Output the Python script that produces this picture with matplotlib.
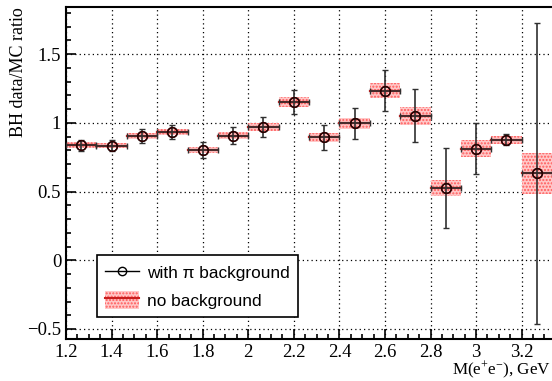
import matplotlib
matplotlib.use("Agg")
import matplotlib.pyplot as plt
import numpy as np
from matplotlib.patches import Rectangle
from matplotlib.lines import Line2D
from matplotlib.ticker import MultipleLocator

# bins of M(e+e-), GeV
bin_lo = [1.2, 1.3333, 1.4667, 1.6, 1.7333, 1.8667, 2.0, 2.1333,
          2.2667, 2.4, 2.5333, 2.6667, 2.8, 2.9333, 3.0667, 3.2]
bin_w = 0.13333

# ratio with pi background subtracted
ratio = [0.837, 0.835, 0.905, 0.932, 0.806, 0.908, 0.971, 1.155,
         0.895, 0.997, 1.235, 1.051, 0.527, 0.813, 0.876, 0.634]
ratio_err = [0.04, 0.04, 0.05, 0.052, 0.058, 0.06, 0.073, 0.087,
             0.092, 0.114, 0.147, 0.193, 0.29, 0.186, 0.04, 1.095]

# no background version (band)
nobkg = ratio
nobkg_err = [0.021, 0.02, 0.024, 0.021, 0.022, 0.024, 0.028, 0.036,
             0.034, 0.041, 0.056, 0.068, 0.06, 0.063, 0.03, 0.15]

plt.rcParams['font.family'] = ['Liberation Serif', 'DejaVu Serif']
plt.rcParams['mathtext.default'] = 'regular'

fig = plt.figure(figsize=(5.52, 3.81), dpi=100)
ax = fig.add_axes([0.1196, 0.1102, 0.8804, 0.8722])

centers = np.array(bin_lo) + bin_w / 2

for lo, v, e in zip(bin_lo, nobkg, nobkg_err):
    ax.add_patch(Rectangle((lo, v - e), bin_w, 2 * e, facecolor='#ffc8c8',
                           edgecolor='#ff5a5a', hatch='.....', lw=0, zorder=2))
    ax.plot([lo, lo + bin_w], [v, v], color='#c81e1e', lw=1.6, zorder=3)

ax.errorbar(centers, ratio, yerr=ratio_err, xerr=bin_w / 2, fmt='o',
            mfc='none', mec='black', ms=7, mew=1.0, ecolor='#303030',
            elinewidth=1.2, capsize=2.2, capthick=1.2, zorder=4)
ax.plot(centers, ratio, 'o', mfc='none', mec='#300000', ms=7, mew=1.0, zorder=5)

ax.set_xlim(1.2, 3.3333)
ax.set_ylim(-0.573, 1.846)
ax.xaxis.set_minor_locator(MultipleLocator(0.05))
ax.yaxis.set_minor_locator(MultipleLocator(0.1))
ax.set_xticks([1.2, 1.4, 1.6, 1.8, 2.0, 2.2, 2.4, 2.6, 2.8, 3.0, 3.2])
ax.set_xticklabels(['1.2', '1.4', '1.6', '1.8', '2', '2.2', '2.4', '2.6', '2.8', '3', '3.2'])
ax.set_yticks([-0.5, 0, 0.5, 1, 1.5])
ax.set_yticklabels(['\u22120.5', '0', '0.5', '1', '1.5'])
ax.grid(True, which='major', color='black', linestyle=(0, (1, 2.5)), lw=0.9)
ax.tick_params(which='both', direction='in', top=False, right=False,
               labelsize=13.5, width=1.2)
ax.tick_params(which='major', length=7)
ax.tick_params(which='minor', length=3.5)
for s in ['left', 'bottom', 'top']:
    ax.spines[s].set_linewidth(1.5)
ax.spines['right'].set_visible(False)

fig.text(0.033, 0.982, 'BH data/MC ratio', fontsize=13, rotation=90,
         ha='center', va='top')
fig.text(0.998, 0.028, 'M(e$^{+}$e$^{-}$), GeV', fontsize=12.3,
         ha='right', va='center')

h1 = Line2D([], [], color='black', lw=1, marker='o', mfc='none', mec='black', ms=6)
h2 = (Rectangle((0, 0), 1, 1, facecolor='#ffc8c8', edgecolor='#ff5a5a',
                hatch='.....', lw=0),
      Line2D([], [], color='#c81e1e', lw=1.5))
leg = ax.legend([h1, h2], ['with \u03c0 background', 'no background'],
                loc='lower left', bbox_to_anchor=(0.064, 0.067),
                prop={'family': 'Liberation Sans', 'size': 12.4},
                fancybox=False, edgecolor='black', framealpha=1,
                handlelength=2.0, handleheight=1.25, labelspacing=0.55,
                borderpad=0.45, handletextpad=0.45, borderaxespad=0)
leg.get_frame().set_linewidth(1.2)

fig.savefig('out.png', dpi=100)
